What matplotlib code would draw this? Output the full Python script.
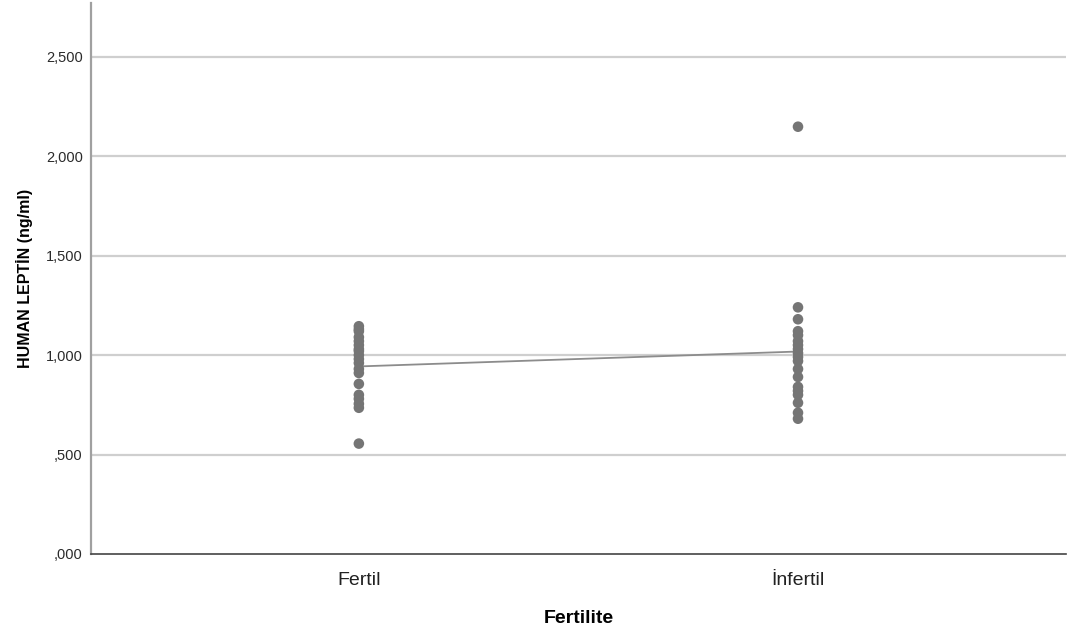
import matplotlib
matplotlib.use("Agg")
import matplotlib.pyplot as plt
from matplotlib import font_manager
import numpy as np
from matplotlib.ticker import FuncFormatter

plt.rcParams['font.family'] = ['Liberation Sans', 'DejaVu Sans']
_names = {f.name for f in font_manager.fontManager.ttflist}
if 'Liberation Sans Narrow' in _names:
    ylab_family = ['Liberation Sans Narrow', 'Liberation Sans', 'DejaVu Sans']
    ylab_size = 14
else:
    ylab_family = ['Liberation Sans', 'DejaVu Sans']
    ylab_size = 11.5

categories = ["Fertil", "İnfertil"]
fertil = [1.145, 1.13, 1.12, 1.09, 1.07, 1.05, 1.03, 1.02, 1.00, 0.98, 0.96,
          0.93, 0.91, 0.855, 0.80, 0.78, 0.755, 0.735, 0.555]
infertil = [2.148, 1.24, 1.18, 1.12, 1.10, 1.07, 1.05, 1.03, 1.01, 0.99, 0.97,
            0.93, 0.89, 0.84, 0.82, 0.80, 0.76, 0.71, 0.68]
groups = [fertil, infertil]
yticks = [0, 0.5, 1.0, 1.5, 2.0, 2.5]

fig = plt.figure(figsize=(10.68, 6.34), dpi=100)
ax = fig.add_axes([0.0852, 0.1262, 0.9128, 0.8691])

for i, vals in enumerate(groups):
    ax.scatter([i] * len(vals), vals, s=58, color="#757575", edgecolors="none", zorder=3)

means = [np.mean(v) for v in groups]
ax.plot(range(len(categories)), means, color="#8c8c8c", lw=1.3, zorder=2)

ax.set_xlim(-0.61, 1.61)
ax.set_ylim(0, 2.77)
ax.set_yticks(yticks)


def fmt(v, pos):
    s = f"{v:.3f}".replace(".", ",")
    if s.startswith("0"):
        s = s[1:]
    return s


ax.yaxis.set_major_formatter(FuncFormatter(fmt))
ax.set_xticks(range(len(categories)))
ax.set_xticklabels(categories, fontsize=14, color="#222222")
ax.tick_params(axis="both", length=0)
ax.tick_params(axis="y", labelsize=10.5, pad=6, colors="#2a2a2a")
ax.tick_params(axis="x", pad=13)

for t in yticks[1:]:
    ax.axhline(t, color="#cfcfcf", lw=1.6, zorder=1)

for side in ["top", "right"]:
    ax.spines[side].set_visible(False)
ax.spines["left"].set_color("#a0a0a0")
ax.spines["left"].set_linewidth(1.6)
ax.spines["bottom"].set_color("#444444")
ax.spines["bottom"].set_linewidth(1.2)

ax.set_ylabel("HUMAN LEPTİN (ng/ml)", fontsize=ylab_size, fontweight="bold",
              family=ylab_family, labelpad=9)
ax.set_xlabel("Fertilite", fontsize=14, fontweight="bold", labelpad=15)

fig.savefig("out.png", dpi=100)
